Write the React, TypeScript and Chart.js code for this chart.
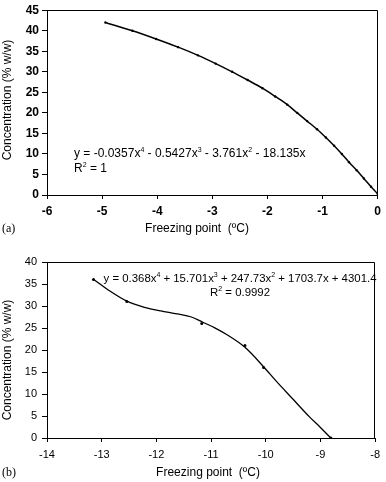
import React, { useEffect, useRef } from "react";
import { Chart, registerables } from "chart.js";
Chart.register(...registerables);

// ---- Chart (a) data ----
const aFreezing = [-4.94, -4.45, -4.02, -3.62, -3.26, -2.94, -2.64, -2.36, -2.09, -1.86, -1.64, -1.46, -1.28, -1.1, -0.94, -0.79, -0.65, -0.52, -0.38, -0.25, -0.12, 0];
const aConc = [42, 40, 38, 36, 34, 32, 30, 28, 26, 24, 22, 20, 18, 16, 14, 12, 10, 8, 6, 4, 2, 0.3];

// ---- Chart (b) data ----
const bFreezing = [-13.15, -12.54, -11.17, -10.38, -10.04, -8.81];
const bConc = [36, 31, 26, 21, 16, 0];
const bTrendX = [-13.15, -12.85, -12.54, -12.22, -11.92, -11.62, -11.36, -11.15, -10.94, -10.7, -10.38, -10.04, -9.8, -9.5, -9.2, -9.0, -8.81];
const bTrendY = [36.1, 33.4, 31.1, 29.7, 28.9, 28.2, 27.5, 26.3, 25.1, 23.4, 20.6, 16.2, 12.8, 8.8, 4.8, 2.4, 0];

// ---- Axis / text ----
const aXTicks = { min: -6, max: 0, step: 1 };
const aYTicks = { min: 0, max: 45, step: 5 };
const bXTicks = { min: -14, max: -8, step: 1 };
const bYTicks = { min: 0, max: 40, step: 5 };
const xTitle = "Freezing point  (\u00BAC)";
const yTitle = "Concentration (% w/w)";
const aEquation = [
  ["y = -0.0357x", false], ["4", true], [" - 0.5427x", false], ["3", true],
  [" - 3.761x", false], ["2", true], [" - 18.135x", false],
];
const aR2 = [["R", false], ["2", true], [" = 1", false]];
const bEquation = [
  ["y = 0.368x", false], ["4", true], [" + 15.701x", false], ["3", true],
  [" + 247.73x", false], ["2", true], [" + 1703.7x + 4301.4", false],
];
const bR2 = [["R", false], ["2", true], [" = 0.9992", false]];

const SANS = "'Liberation Sans', Arial, sans-serif";

type Seg = [string, boolean];

function drawRich(ctx: CanvasRenderingContext2D, segs: Seg[], x: number, y: number, align: "left" | "center", size: number) {
  const big = `${size}px ${SANS}`;
  const small = `${Math.round(size * 0.62)}px ${SANS}`;
  let total = 0;
  for (const [t, sup] of segs) {
    ctx.font = sup ? small : big;
    total += ctx.measureText(t).width;
  }
  let cx = align === "center" ? x - total / 2 : x;
  ctx.textAlign = "left";
  ctx.textBaseline = "middle";
  ctx.fillStyle = "#000";
  for (const [t, sup] of segs) {
    ctx.font = sup ? small : big;
    ctx.fillText(t, cx, sup ? y - 4 : y);
    cx += ctx.measureText(t).width;
  }
}

function makeOverlay(cfg: {
  eq: Seg[]; eqX: number; eqY: number; r2: Seg[]; r2X: number; r2Y: number; align: "left" | "center"; eqSize: number;
  titleX: number; titleY: number; yTitleY: number; tag: string; tagY: number;
}) {
  return {
    id: "overlay",
    afterDraw(chart: any) {
      const ctx: CanvasRenderingContext2D = chart.ctx;
      const a = chart.chartArea;
      ctx.save();
      ctx.strokeStyle = "#000";
      ctx.lineWidth = 1;
      ctx.beginPath();
      const t = Math.round(a.top) + 0.5;
      const r = Math.round(a.right) - 0.5;
      ctx.moveTo(a.left, t);
      ctx.lineTo(r, t);
      ctx.lineTo(r, a.bottom);
      ctx.stroke();
      drawRich(ctx, cfg.eq, cfg.eqX, cfg.eqY, cfg.align, cfg.eqSize);
      drawRich(ctx, cfg.r2, cfg.r2X, cfg.r2Y, cfg.align, cfg.eqSize);
      ctx.fillStyle = "#000";
      ctx.font = `12px ${SANS}`;
      ctx.textAlign = "center";
      ctx.textBaseline = "middle";
      ctx.fillText(xTitle, cfg.titleX, cfg.titleY);
      ctx.save();
      ctx.translate(8, cfg.yTitleY);
      ctx.rotate(-Math.PI / 2);
      ctx.fillText(yTitle, 0, 0);
      ctx.restore();
      ctx.font = "12px 'Liberation Serif', 'Times New Roman', serif";
      ctx.textAlign = "left";
      ctx.fillText(cfg.tag, 2, cfg.tagY);
      ctx.restore();
    },
  };
}

function axes(xt: any, yt: any, xHeight: number, o: { size: number; weight: string; xPad: number; yPad: number }) {
  const tickFont = { family: SANS, size: o.size, weight: o.weight };
  return {
    x: {
      type: "linear",
      min: xt.min,
      max: xt.max,
      ticks: { stepSize: xt.step, color: "#000", font: tickFont, padding: o.xPad, maxRotation: 0, autoSkip: false },
      grid: { drawOnChartArea: false, drawTicks: true, tickLength: 4, color: "#000" },
      border: { display: true, color: "#000", width: 1 },
      afterFit: (s: any) => { s.height = xHeight; },
    },
    y: {
      type: "linear",
      min: yt.min,
      max: yt.max,
      ticks: { stepSize: yt.step, color: "#000", font: tickFont, padding: o.yPad, autoSkip: false },
      grid: { drawOnChartArea: false, drawTicks: true, tickLength: 5, color: "#000" },
      border: { display: true, color: "#000", width: 1 },
      afterFit: (s: any) => { s.width = 47; },
    },
  };
}

function ChartA() {
  const ref = useRef<HTMLCanvasElement>(null);
  useEffect(() => {
    const chart = new Chart(ref.current!, {
      type: "scatter",
      data: {
        datasets: [
          {
            data: aFreezing.map((x, i) => ({ x, y: aConc[i] })),
            showLine: true,
            borderColor: "#000",
            backgroundColor: "#000",
            borderWidth: 1.5,
            pointRadius: 1.2,
            pointBorderWidth: 0,
            cubicInterpolationMode: "monotone",
          },
        ],
      },
      options: {
        responsive: false,
        animation: false,
        devicePixelRatio: 1,
        layout: { padding: { top: 6, right: 6, left: 0, bottom: 0 } },
        plugins: { legend: { display: false }, tooltip: { enabled: false } },
        scales: axes(aXTicks, aYTicks, 45, { size: 12, weight: "bold", xPad: 5, yPad: 3 }) as any,
      },
      plugins: [
        makeOverlay({
          eq: aEquation as Seg[], eqX: 74, eqY: 154, r2: aR2 as Seg[], r2X: 74, r2Y: 169, align: "left", eqSize: 12,
          titleX: 197, titleY: 229, yTitleY: 100, tag: "(a)", tagY: 229,
        }),
      ],
    });
    return () => chart.destroy();
  }, []);
  return <canvas ref={ref} width={386} height={240} style={{ display: "block" }} />;
}

function ChartB() {
  const ref = useRef<HTMLCanvasElement>(null);
  useEffect(() => {
    const chart = new Chart(ref.current!, {
      type: "scatter",
      data: {
        datasets: [
          {
            data: bTrendX.map((x, i) => ({ x, y: bTrendY[i] })),
            showLine: true,
            borderColor: "#000",
            borderWidth: 1.3,
            pointRadius: 0,
            cubicInterpolationMode: "monotone",
          },
          {
            data: bFreezing.map((x, i) => ({ x, y: bConc[i] })),
            showLine: false,
            borderColor: "#000",
            backgroundColor: "#000",
            pointRadius: 1.5,
            pointBorderWidth: 0,
          },
        ],
      },
      options: {
        responsive: false,
        animation: false,
        devicePixelRatio: 1,
        layout: { padding: { top: 22, right: 6, left: 0, bottom: 0 } },
        plugins: { legend: { display: false }, tooltip: { enabled: false } },
        scales: axes(bXTicks, bYTicks, 44, { size: 11, weight: "normal", xPad: 6, yPad: 5 }) as any,
      },
      plugins: [
        makeOverlay({
          eq: bEquation as Seg[], eqX: 240, eqY: 39, r2: bR2 as Seg[], r2X: 240, r2Y: 53, align: "center", eqSize: 11.4,
          titleX: 208, titleY: 233, yTitleY: 120, tag: "(b)", tagY: 233,
        }),
      ],
    });
    return () => chart.destroy();
  }, []);
  return <canvas ref={ref} width={386} height={242} style={{ display: "block" }} />;
}

export default function App() {
  return (
    <div style={{ position: "absolute", left: 0, top: 0, width: 386, height: 482, background: "#fff" }}>
      <ChartA />
      <ChartB />
    </div>
  );
}
